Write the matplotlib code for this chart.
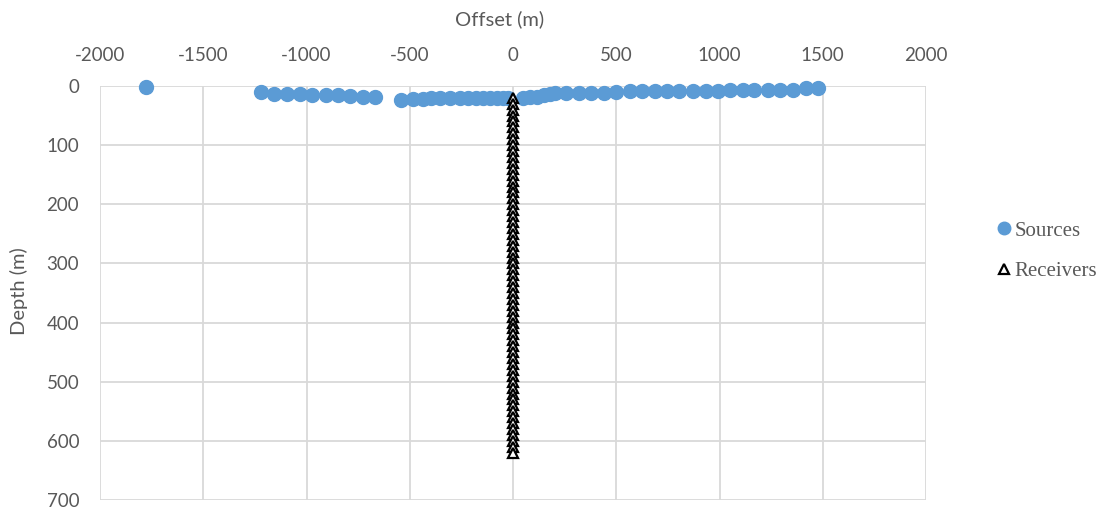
import matplotlib.pyplot as plt

# source positions: offset (m), depth (m)
src_offset = [-1778, -1218, -1155, -1093, -1033, -972, -907, -848, -788, -728, -667,
              -542, -485, -436, -396, -355, -307, -258, -217, -177, -145, -112, -79, -47, -23,
              50, 83, 115, 148, 180, 204,
              258, 318, 378, 440, 501, 566, 626, 686, 745, 804, 874, 934, 991,
              1053, 1113, 1169, 1235, 1291, 1356, 1421, 1478]
src_depth = [2, 10, 13, 13, 14, 15, 15, 16, 17, 18, 19,
             23, 22, 22, 21, 21, 21, 21, 21, 21, 21, 21, 21, 21, 21,
             20, 19, 18, 16, 14, 12,
             12, 11, 11, 11, 10, 8, 8, 8, 8, 8, 8, 8, 8,
             7, 6, 6, 6, 6, 6, 4, 3]

# receivers in the well at zero offset
rec_depth = [20, 30, 40, 50, 60, 70, 80, 90, 100, 110, 120, 130, 140, 150, 160,
             170, 180, 190, 200, 210, 220, 230, 240, 250, 260, 270, 280, 290, 300,
             310, 320, 330, 340, 350, 360, 370, 380, 390, 400, 410, 420, 430, 440,
             450, 460, 470, 480, 490, 500, 510, 520, 530, 540, 550, 560, 570, 580,
             590, 600, 610, 620]
rec_offset = [0] * len(rec_depth)

xticks = [-2000, -1500, -1000, -500, 0, 500, 1000, 1500, 2000]
yticks = [0, 100, 200, 300, 400, 500, 600, 700]

plt.rcParams['font.family'] = ['Lato', 'DejaVu Sans']
plt.rcParams['axes.unicode_minus'] = False
grey = '#595959'

fig = plt.figure(figsize=(11.04, 5.12), dpi=100)
ax = fig.add_axes([100 / 1104, 12 / 512, 826 / 1104, 414 / 512])

ax.plot(src_offset, src_depth, 'o', color='#5B9BD5', ms=10, mec='#5B9BD5',
        label='Sources', zorder=3, clip_on=False)
ax.plot(rec_offset, rec_depth, '^', color='white', ms=7.5, mec='black', mew=1.6,
        label='Receivers', zorder=4, clip_on=False)

ax.set_xlim(-2000, 2000)
ax.set_ylim(700, 0)
ax.set_xticks(xticks)
ax.set_yticks(yticks)
ax.xaxis.tick_top()
ax.tick_params(length=0, labelsize=13.5, colors=grey)
ax.tick_params(axis='x', pad=16)
ax.tick_params(axis='y', pad=15)
ax.grid(True, color='#d9d9d9', lw=1.3)
ax.set_axisbelow(True)
for s in ax.spines.values():
    s.set_visible(False)

fig.text(500 / 1104, 1 - 19 / 512, 'Offset (m)', ha='center', va='center',
         fontsize=14.5, color=grey)
fig.text(19 / 1104, 1 - 291 / 512, 'Depth (m)', ha='center', va='center',
         rotation=90, fontsize=14.5, color=grey)

leg = fig.legend(loc='center left', bbox_to_anchor=(976 / 1104, 1 - 251 / 512),
                 frameon=False, prop={'family': 'Liberation Serif', 'size': 15},
                 handletextpad=0.05, labelspacing=1.0, handlelength=0.9)
leg.legend_handles[0].set_markersize(9)
leg.legend_handles[1].set_markersize(7.5)
for t in leg.get_texts():
    t.set_color(grey)

fig.savefig('out.png', dpi=100)
